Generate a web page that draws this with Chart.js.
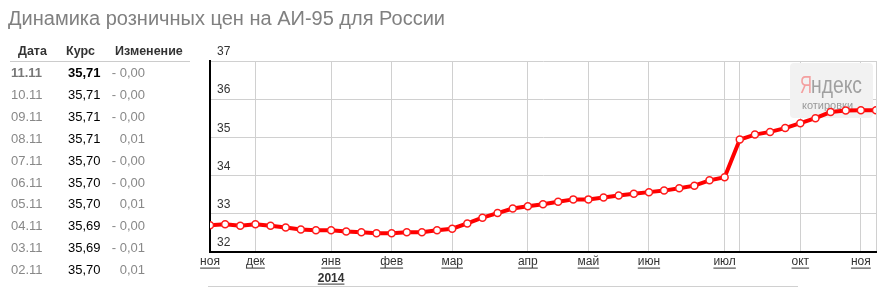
<!DOCTYPE html>
<html>
<head>
<meta charset="utf-8">
<script src="https://cdn.jsdelivr.net/npm/chart.js@4.4.1/dist/chart.umd.min.js"></script>
<style>
  html, body { margin: 0; padding: 0; background: #fff; }
  body { width: 888px; height: 288px; position: relative; overflow: hidden; font-family: Arial, "Liberation Sans", sans-serif; }
  #chart { position: absolute; left: 0; top: 0; }
  .title { position: absolute; left: 8px; top: 7px; font-size: 20px; color: #808080; white-space: nowrap; }
  .cell { position: absolute; font-size: 13px; white-space: nowrap; line-height: 16px; }
  .hdr { font-weight: bold; color: #333; font-size: 12.5px; }
  .hline { position: absolute; left: 10px; top: 61px; width: 180px; height: 1px; background: #ccc; }
  .bline { position: absolute; left: 208px; top: 286px; width: 590px; height: 1px; background: #d0d0d0; }
</style>
</head>
<body>
<canvas id="chart" width="888" height="288"></canvas>
<div class="title">Динамика розничных цен на АИ-95 для России</div>
<div class="hline"></div>
<div class="bline"></div>
<div id="table"></div>
<script>
// Table on the left (latest quotes)
const tableDates = ['11.11', '10.11', '09.11', '08.11', '07.11', '06.11', '05.11', '04.11', '03.11', '02.11'];
const tableRates = ['35,71', '35,71', '35,71', '35,71', '35,70', '35,70', '35,70', '35,69', '35,69', '35,70'];
const tableChanges = ['- 0,00', '- 0,00', '- 0,00', '0,01', '- 0,00', '- 0,00', '0,01', '- 0,00', '- 0,01', '0,01'];

// Weekly price series (rub/litre), Nov 2013 - Nov 2014
const prices = [
    32.69, 32.72, 32.68, 32.72, 32.68, 32.63, 32.58, 32.56, 32.56, 32.53,
    32.51, 32.48, 32.48, 32.51, 32.51, 32.56, 32.60, 32.74, 32.89, 33.01,
    33.13, 33.19, 33.24, 33.31, 33.37, 33.37, 33.42, 33.47, 33.52, 33.56,
    33.60, 33.66, 33.73, 33.87, 33.95, 34.94, 35.07, 35.14, 35.24, 35.37,
    35.50, 35.66, 35.70, 35.71, 35.71
];

// Month labels and where they sit in the series
const monthIndex = [0, 3, 8, 12, 16, 21, 25, 29, 34, 39, 43];
const monthNames = ['ноя', 'дек', 'янв', 'фев', 'мар', 'апр', 'май', 'июн', 'июл', 'окт', 'ноя'];
const extraGrid = [35, 44];
const yearIndex = 8;
const yearLabel = '2014';

const categories = prices.map((v, i) => {
    const k = monthIndex.indexOf(i);
    return k >= 0 ? monthNames[k] : '';
});

// --- build table ---
const table = document.getElementById('table');
function cell(text, left, top, css, align) {
    const d = document.createElement('div');
    d.className = 'cell ' + (css || '');
    d.textContent = text;
    d.style.top = top + 'px';
    if (align === 'right') d.style.right = (888 - left) + 'px';
    else d.style.left = left + 'px';
    table.appendChild(d);
    return d;
}
cell('Дата', 18, 43, 'hdr');
cell('Курс', 66, 43, 'hdr');
cell('Изменение', 115, 43, 'hdr');
tableDates.forEach((d, i) => {
    const top = 65 + i * 21.9;
    const a = cell(d, 11, top);
    a.style.color = '#888';
    const b = cell(tableRates[i], 68, top);
    b.style.color = '#000';
    const c = cell(tableChanges[i], 145, top, '', 'right');
    c.style.color = '#888';
    if (i === 0) { a.style.fontWeight = 'bold'; a.style.color = '#777'; b.style.fontWeight = 'bold'; }
});

// --- plugins ---
const yandexLogo = {
    id: 'yandexLogo',
    beforeDatasetsDraw(chart) {
        const ctx = chart.ctx;
        ctx.save();
        ctx.fillStyle = '#f2f2f2';
        ctx.beginPath();
        ctx.roundRect(790, 63, 83, 55, 4);
        ctx.fill();
        ctx.textBaseline = 'alphabetic';
        ctx.font = '24px Arial';
        ctx.fillStyle = '#f4a0a0';
        ctx.fillText('Я', 800, 93, 12);
        ctx.fillStyle = '#a0a0a0';
        ctx.fillText('ндекс', 811, 93, 51);
        ctx.font = '11px Arial';
        ctx.fillStyle = '#999';
        ctx.fillText('котировки', 802, 109, 60);
        ctx.restore();
    }
};

const underlineTicks = {
    id: 'underlineTicks',
    afterDraw(chart) {
        const ctx = chart.ctx;
        const x = chart.scales.x;
        const y0 = x.top + 16;
        ctx.save();
        ctx.strokeStyle = '#333';
        ctx.lineWidth = 1;
        ctx.font = '12px Arial';
        monthIndex.forEach((idx, k) => {
            const px = x.getPixelForTick(idx);
            const w = ctx.measureText(monthNames[k]).width;
            ctx.beginPath();
            ctx.moveTo(px - w / 2, y0 + 0.5);
            ctx.lineTo(px + w / 2, y0 + 0.5);
            ctx.stroke();
        });
        // year under January
        const px = x.getPixelForTick(yearIndex);
        ctx.font = 'bold 12px Arial';
        ctx.fillStyle = '#333';
        ctx.textAlign = 'center';
        ctx.textBaseline = 'alphabetic';
        ctx.fillText(yearLabel, px, y0 + 14);
        const w = ctx.measureText(yearLabel).width;
        ctx.beginPath();
        ctx.moveTo(px - w / 2, y0 + 16.5);
        ctx.lineTo(px + w / 2, y0 + 16.5);
        ctx.stroke();
        ctx.restore();
    }
};

// --- chart ---
const ctx = document.getElementById('chart').getContext('2d');
const priceChart = new Chart(ctx, {
    type: 'line',
    data: {
        labels: categories,
        datasets: [{
            label: 'АИ-95',
            data: prices,
            borderColor: '#ff0000',
            borderWidth: 4,
            tension: 0,
            pointRadius: 3.5,
            pointBorderWidth: 1.5,
            pointBackgroundColor: '#ffffff',
            pointBorderColor: '#ff1a1a',
            clip: { left: 0, right: 0, top: false, bottom: false }
        }]
    },
    options: {
        responsive: false,
        animation: false,
        layout: { padding: { left: 196, top: 61, right: 12, bottom: 16 } },
        plugins: { legend: { display: false }, tooltip: { enabled: false } },
        scales: {
            x: {
                type: 'category',
                offset: false,
                border: { color: '#000', width: 2 },
                grid: {
                    drawTicks: false,
                    color: (c) => (monthIndex.includes(c.index) && c.index !== 0) || extraGrid.includes(c.index) ? '#d0d0d0' : 'transparent'
                },
                ticks: {
                    autoSkip: false,
                    maxRotation: 0,
                    padding: 3,
                    color: '#333',
                    font: { family: 'Arial', size: 12 }
                }
            },
            y: {
                min: 32,
                max: 37,
                border: { color: '#000', width: 2 },
                grid: { drawTicks: false, color: '#d0d0d0' },
                ticks: {
                    stepSize: 1,
                    mirror: true,
                    padding: 7,
                    labelOffset: -9,
                    color: '#333',
                    font: { family: 'Arial', size: 12 }
                }
            }
        }
    },
    plugins: [yandexLogo, underlineTicks]
});
</script>
</body>
</html>
